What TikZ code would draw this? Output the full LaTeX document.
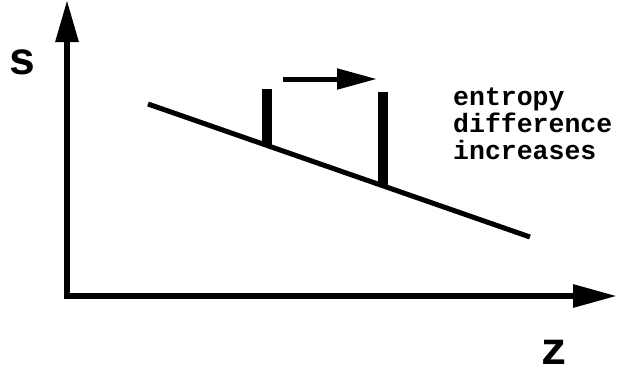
\documentclass[tikz,border=0pt]{standalone}
\usepackage{fontspec}
\setmonofont{Liberation Mono}
\usetikzlibrary{arrows.meta}
\begin{document}
\begin{tikzpicture}[x=1pt,y=-1pt,
  axis/.style={line width=6pt,line join=miter,{Triangle[length=42pt,width=22pt]}-{Triangle[length=44pt,width=22pt]}},
  bar/.style={line width=10pt},
  lbl/.style={font=\ttfamily\bfseries\fontsize{46}{46}\selectfont,inner sep=0pt},
  note/.style={font=\ttfamily\bfseries\fontsize{26.5}{27}\selectfont,align=left,inner sep=0pt,anchor=base west}]
\useasboundingbox (0,0) rectangle (621,373);
\coordinate (ytip) at (67,0);
\coordinate (origin) at (67,296);
\coordinate (xtip) at (617,296);
\draw[axis] (ytip) -- (origin) -- (xtip);
\node[lbl] (s) at (22,62) {s};
\node[lbl] (z) at (554,352) {z};
\coordinate (la) at (148,104);
\coordinate (lb) at (530,237);
\draw[line width=5pt] (la) -- (lb);
\coordinate (b1t) at (267,89);
\coordinate (b1b) at (267,146);
\coordinate (b2t) at (383,92);
\coordinate (b2b) at (383,187);
\draw[bar] (b1t) -- (b1b);
\draw[bar] (b2t) -- (b2b);
\coordinate (aa) at (283,79);
\coordinate (ab) at (377,79);
\draw[line width=5pt,-{Triangle[length=40pt,width=20pt]}] (aa) -- (ab);
\node[note] (txt) at (453,159) {entropy\\difference\\increases};
\end{tikzpicture}
\end{document}
